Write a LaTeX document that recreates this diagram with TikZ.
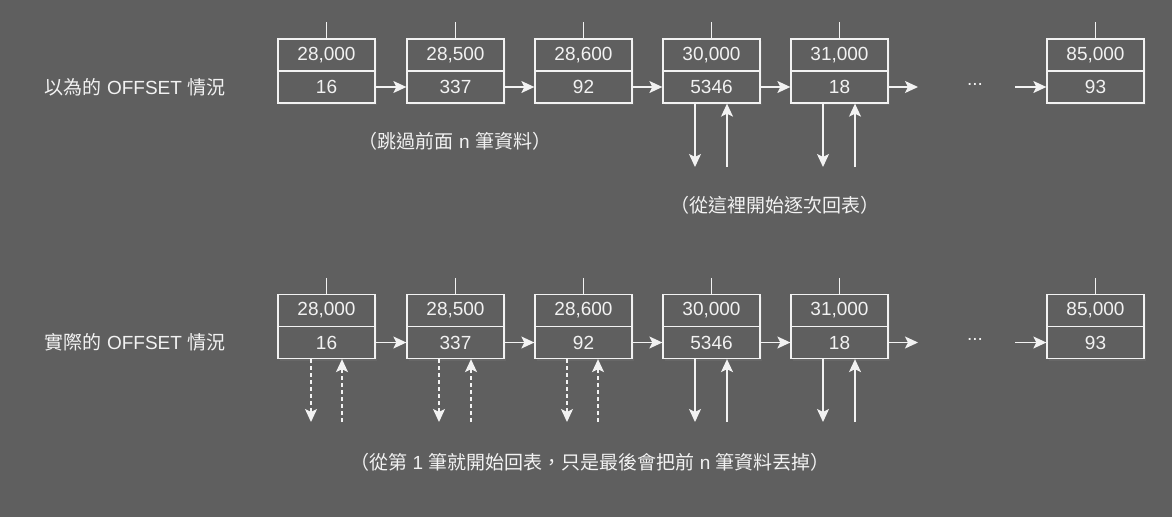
\documentclass[tikz,border=0pt]{standalone}
\usepackage{fontspec}
\setmainfont{Liberation Sans}
\newfontfamily\cjk{Noto Sans CJK TC}
\usetikzlibrary{arrows.meta,shadows}
\definecolor{bg}{HTML}{5F5F5F}
\definecolor{fg}{HTML}{F2F2F2}
\tikzset{
  cell/.style={draw=fg, fill=bg, line width=1.3pt, minimum width=97pt, minimum height=32pt, inner sep=0pt,
    text=fg, font=\fontsize{19}{22}\selectfont,
    drop shadow={opacity=0.25, shadow xshift=2pt, shadow yshift=-2pt}},
  link/.style={draw=fg, line width=1.3pt, -{Stealth[length=13pt, width=12pt, inset=3pt]}},
  tick/.style={draw=fg, line width=1.3pt},
  dlink/.style={link, dash pattern=on 4pt off 3pt},
  lbl/.style={text=fg, font=\fontsize{19}{22}\selectfont, inner sep=0pt},
}
\begin{document}
\begin{tikzpicture}[x=1pt,y=-1pt]
\fill[bg] (0,0) rectangle (1172,517);
\useasboundingbox (0,0) rectangle (1172,517);

% Row 1
\node[cell] (a1t) at (326.5,55) {28,000};
\node[cell] (a1b) at (326.5,87) {16};
\node[cell] (a2t) at (455.5,55) {28,500};
\node[cell] (a2b) at (455.5,87) {337};
\node[cell] (a3t) at (583.5,55) {28,600};
\node[cell] (a3b) at (583.5,87) {92};
\node[cell] (a4t) at (711.5,55) {30,000};
\node[cell] (a4b) at (711.5,87) {5346};
\node[cell] (a5t) at (839.5,55) {31,000};
\node[cell] (a5b) at (839.5,87) {18};
\node[cell] (a6t) at (1095.5,55) {85,000};
\node[cell] (a6b) at (1095.5,87) {93};

\foreach \i in {1,...,6} {
  \coordinate (at\i) at ([yshift=16pt]a\i t.north);
  \draw[tick] (at\i) -- (a\i t.north);
}
\draw[link] (a1b) -- (a2b);
\draw[link] (a2b) -- (a3b);
\draw[link] (a3b) -- (a4b);
\draw[link] (a4b) -- (a5b);
\coordinate (aout) at (918,87);
\coordinate (ain) at (1015,87);
\draw[link] (a5b) -- (aout);
\draw[link] (ain) -- (a6b);
\node[lbl] (adots) at (975,84) {...};

\coordinate (a4d) at (695,167);
\coordinate (a4u) at (727,167);
\coordinate (a5d) at (823,167);
\coordinate (a5u) at (855,167);
\draw[link] (a4b.south -| a4d) -- (a4d);
\draw[link] (a4u) -- (a4b.south -| a4u);
\draw[link] (a5b.south -| a5d) -- (a5d);
\draw[link] (a5u) -- (a5b.south -| a5u);

\node[lbl] (alabel) at (135,87) {{\cjk 以為的} OFFSET {\cjk 情況}};
\node[lbl] (anote1) at (455,141) {{\cjk （跳過前面} n {\cjk 筆資料）}};
\node[lbl] (anote2) at (775,205) {{\cjk （從這裡開始逐次回表）}};

% Row 2
\node[cell] (b1t) at (326.5,310.5) {28,000};
\node[cell] (b1b) at (326.5,342.5) {16};
\node[cell] (b2t) at (455.5,310.5) {28,500};
\node[cell] (b2b) at (455.5,342.5) {337};
\node[cell] (b3t) at (583.5,310.5) {28,600};
\node[cell] (b3b) at (583.5,342.5) {92};
\node[cell] (b4t) at (711.5,310.5) {30,000};
\node[cell] (b4b) at (711.5,342.5) {5346};
\node[cell] (b5t) at (839.5,310.5) {31,000};
\node[cell] (b5b) at (839.5,342.5) {18};
\node[cell] (b6t) at (1095.5,310.5) {85,000};
\node[cell] (b6b) at (1095.5,342.5) {93};

\foreach \i in {1,...,6} {
  \coordinate (bt\i) at ([yshift=16pt]b\i t.north);
  \draw[tick] (bt\i) -- (b\i t.north);
}
\draw[link] (b1b) -- (b2b);
\draw[link] (b2b) -- (b3b);
\draw[link] (b3b) -- (b4b);
\draw[link] (b4b) -- (b5b);
\coordinate (bout) at (918,342.5);
\coordinate (bin) at (1015,342.5);
\draw[link] (b5b) -- (bout);
\draw[link] (bin) -- (b6b);
\node[lbl] (bdots) at (975,339.5) {...};

\foreach \i/\dx/\ux in {1/311/342, 2/439/471, 3/567/598} {
  \coordinate (b\i d) at (\dx,422);
  \coordinate (b\i u) at (\ux,422);
  \draw[dlink] (b\i b.south -| b\i d) -- (b\i d);
  \draw[dlink] (b\i u) -- (b\i b.south -| b\i u);
}
\foreach \i/\dx/\ux in {4/695/727, 5/823/855} {
  \coordinate (b\i d) at (\dx,422);
  \coordinate (b\i u) at (\ux,422);
  \draw[link] (b\i b.south -| b\i d) -- (b\i d);
  \draw[link] (b\i u) -- (b\i b.south -| b\i u);
}

\node[lbl] (blabel) at (135,342) {{\cjk 實際的} OFFSET {\cjk 情況}};
\node[lbl] (bnote) at (590,462) {{\cjk （從第} 1 {\cjk 筆就開始回表，只是最後會把前} n {\cjk 筆資料丟掉）}};
\end{tikzpicture}
\end{document}
